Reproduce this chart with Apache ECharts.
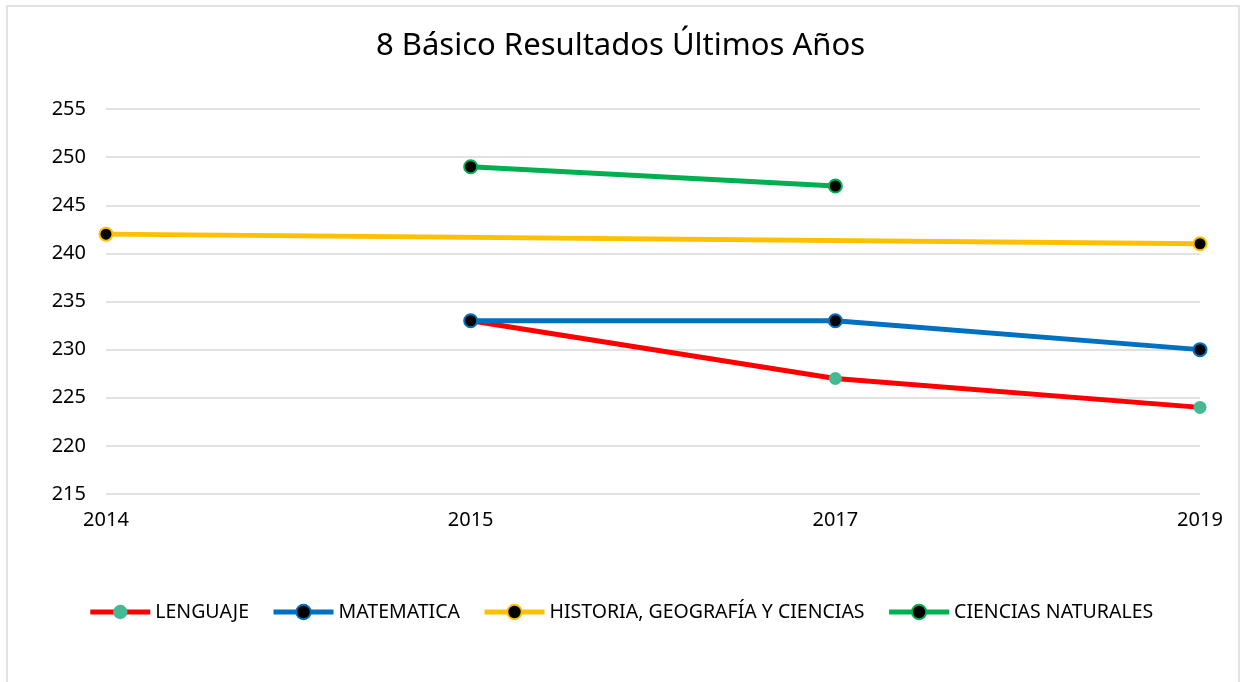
<!DOCTYPE html>
<html>
<head>
<meta charset="utf-8">
<script src="https://cdn.jsdelivr.net/npm/echarts@6/dist/echarts.min.js"></script>
<style>
html, body { margin: 0; padding: 0; background: #fff; }
#chart { width: 1241px; height: 682px; }
</style>
</head>
<body>
<div id="chart"></div>
<script>
var years = ['2014', '2015', '2017', '2019'];
var lenguaje = [null, 233, 227, 224];
var matematica = [null, 233, 233, 230];
var historia = [242, null, null, 241];
var ciencias = [null, 249, 247, null];

var font = 'Noto Sans';

function lineSeries(name, data, color, fill, border) {
    return {
        name: name,
        type: 'line',
        data: data,
        connectNulls: true,
        symbol: 'circle',
        symbolSize: 13,
        lineStyle: { color: color, width: 5 },
        itemStyle: { color: fill, borderColor: border, borderWidth: border ? 2 : 0 }
    };
}

var chart = echarts.init(document.getElementById('chart'));
var option = {
    animation: false,
    backgroundColor: '#fff',
    graphic: [{
        type: 'rect',
        shape: { x: 7, y: 6, width: 1232, height: 680 },
        style: { fill: 'none', stroke: '#d9d9d9', lineWidth: 1.5 },
        silent: true
    }],
    title: {
        text: '8 Básico Resultados Últimos Años',
        left: 'center',
        top: 26,
        textStyle: { fontFamily: font, fontSize: 31, fontWeight: 'normal', color: '#000' }
    },
    legend: {
        bottom: 55,
        left: 'center',
        itemWidth: 60,
        itemHeight: 18,
        itemGap: 22,
        lineStyle: { width: 5 },
        textStyle: { fontFamily: font, fontSize: 19.5, color: '#000' },
        data: ['LENGUAJE', 'MATEMATICA', 'HISTORIA, GEOGRAFÍA Y CIENCIAS', 'CIENCIAS NATURALES']
    },
    grid: { left: 106, right: 41, top: 109, bottom: 188 },
    xAxis: {
        type: 'category',
        boundaryGap: false,
        data: years,
        axisLine: { show: false },
        axisTick: { show: false },
        axisLabel: { fontFamily: font, fontSize: 20, color: '#000', margin: 16 }
    },
    yAxis: {
        type: 'value',
        min: 215,
        max: 255,
        interval: 5,
        axisLine: { show: false },
        axisTick: { show: false },
        axisLabel: { fontFamily: font, fontSize: 20, color: '#000', margin: 20 },
        splitLine: { lineStyle: { color: '#d9d9d9', width: 1.5 } }
    },
    series: [
        lineSeries('LENGUAJE', lenguaje, '#ff0000', '#45b994', null),
        lineSeries('MATEMATICA', matematica, '#0070c0', '#000000', '#0070c0'),
        lineSeries('HISTORIA, GEOGRAFÍA Y CIENCIAS', historia, '#ffc000', '#000000', '#ffc000'),
        lineSeries('CIENCIAS NATURALES', ciencias, '#00b050', '#000000', '#00b050')
    ]
};
chart.setOption(option);
</script>
</body>
</html>
